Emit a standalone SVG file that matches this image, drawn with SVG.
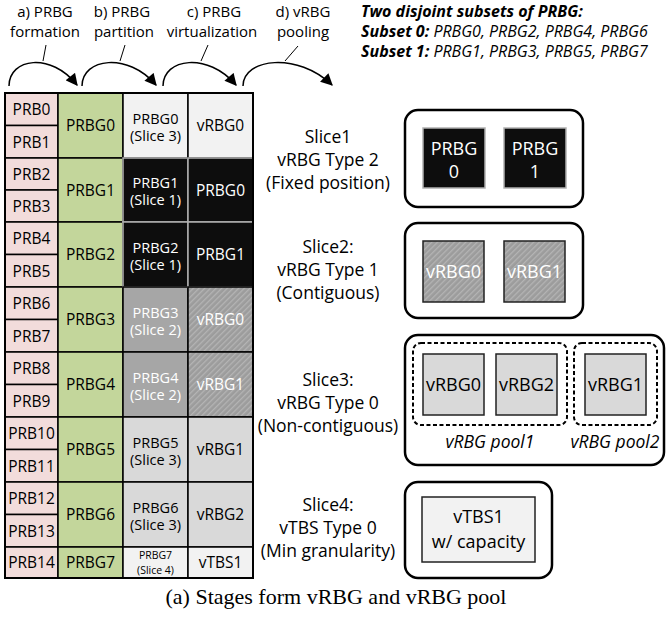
<svg xmlns="http://www.w3.org/2000/svg" width="668" height="619" viewBox="0 0 668 619">
<style>
text{font-family:"Open Sans","Noto Sans",sans-serif;text-anchor:middle;fill:#000}
.t{font-size:15.5px}
.t2{font-size:14.5px}
.w{fill:#fff}
.sm{font-size:10.5px}
.lab{font-size:17.5px}
.hd{font-size:15px}
.bx{font-size:18px}
.it{font-style:italic}
.tr{font-size:16px;font-style:italic;text-anchor:start}
.b{font-weight:bold}
.prb{fill:#F2DCDB;stroke:#000;stroke-width:1.5}
.grp{fill:#C3D69B;stroke:#000;stroke-width:1.5}
.lt{fill:#F2F2F2;stroke:#000;stroke-width:1.5}
.blk{fill:#0d0d0d;stroke:#b0b0b0;stroke-width:1.5}
.g2{fill:#A6A6A6;stroke:#000;stroke-width:1.5}
.h2{fill:url(#hatch);stroke:#000;stroke-width:1.5}
.g3{fill:#D9D9D9;stroke:#000;stroke-width:1.5}
.outer{fill:#fff;stroke:#000;stroke-width:2.5}
.dash{fill:none;stroke:#000;stroke-width:2;stroke-dasharray:4 2.5}
.sq{stroke:#222;stroke-width:1.5}
.arc{fill:none;stroke:#000;stroke-width:1.5}
.ld{stroke:#000;stroke-width:1}
.cap{font-family:"Liberation Serif","Times New Roman",serif;font-size:22px}
</style>
<defs>
<pattern id="hatch" width="4" height="4" patternUnits="userSpaceOnUse" patternTransform="rotate(45)">
<rect width="4" height="4" fill="#9c9c9c"/>
<rect width="1.3" height="4" fill="#b4b4b4"/>
</pattern>
<marker id="ah" viewBox="0 0 10 10" refX="9" refY="5" markerWidth="13" markerHeight="12" markerUnits="userSpaceOnUse" orient="auto">
<path d="M0,0 L10,5 L0,10 z" fill="#000"/>
</marker>
</defs>

<g id="stage-labels">
<text class="hd" x="45" y="16.5">a) PRBG</text>
<text class="hd" x="45" y="36.5">formation</text>
<text class="hd" x="122" y="16.5">b) PRBG</text>
<text class="hd" x="124" y="36.5">partition</text>
<text class="hd" x="214" y="16.5">c) PRBG</text>
<text class="hd" x="212" y="36.5">virtualization</text>
<text class="hd" x="303" y="16.5">d) vRBG</text>
<text class="hd" x="303" y="36.5">pooling</text>
</g>

<g id="subset-note">
<text class="tr b" x="361" y="16.5">Two disjoint subsets of PRBG:</text>
<text class="tr" x="361" y="36.5"><tspan class="b">Subset 0:</tspan> PRBG0, PRBG2, PRBG4, PRBG6</text>
<text class="tr" x="361" y="56.5"><tspan class="b">Subset 1:</tspan> PRBG1, PRBG3, PRBG5, PRBG7</text>
</g>

<g id="connectors">
<path class="arc" d="M9,86 C9,58 51,52 77,85" marker-end="url(#ah)"/>
<path class="arc" d="M82,86 C82,58 128,52 156,85" marker-end="url(#ah)"/>
<path class="arc" d="M163,86 C163,58 208,52 236,85" marker-end="url(#ah)"/>
<path class="arc" d="M243,86 C243,58 298,52 332,85" marker-end="url(#ah)"/>
<line class="ld" x1="46" y1="45" x2="43" y2="61"/>
<line class="ld" x1="125" y1="45" x2="120" y2="61"/>
<line class="ld" x1="208" y1="45" x2="201" y2="61"/>
<line class="ld" x1="298" y1="46" x2="285" y2="61"/>
</g>

<g id="prb-column">
<rect class="prb" x="5" y="93" width="53" height="32.5"/><text class="t" x="31.5" y="115">PRB0</text>
<rect class="prb" x="5" y="125.5" width="53" height="32.5"/><text class="t" x="31.5" y="147.5">PRB1</text>
<rect class="prb" x="5" y="158" width="53" height="32"/><text class="t" x="31.5" y="179.5">PRB2</text>
<rect class="prb" x="5" y="190" width="53" height="32"/><text class="t" x="31.5" y="211.5">PRB3</text>
<rect class="prb" x="5" y="222" width="53" height="32.5"/><text class="t" x="31.5" y="244">PRB4</text>
<rect class="prb" x="5" y="254.5" width="53" height="32.5"/><text class="t" x="31.5" y="276.5">PRB5</text>
<rect class="prb" x="5" y="287" width="53" height="32.5"/><text class="t" x="31.5" y="309">PRB6</text>
<rect class="prb" x="5" y="319.5" width="53" height="32.5"/><text class="t" x="31.5" y="341.5">PRB7</text>
<rect class="prb" x="5" y="352" width="53" height="32.5"/><text class="t" x="31.5" y="374">PRB8</text>
<rect class="prb" x="5" y="384.5" width="53" height="32.5"/><text class="t" x="31.5" y="406.5">PRB9</text>
<rect class="prb" x="5" y="417" width="53" height="32.5"/><text class="t" x="31.5" y="439">PRB10</text>
<rect class="prb" x="5" y="449.5" width="53" height="32.5"/><text class="t" x="31.5" y="471.5">PRB11</text>
<rect class="prb" x="5" y="482" width="53" height="32.5"/><text class="t" x="31.5" y="504">PRB12</text>
<rect class="prb" x="5" y="514.5" width="53" height="32.5"/><text class="t" x="31.5" y="536.5">PRB13</text>
<rect class="prb" x="5" y="547" width="53" height="31"/><text class="t" x="31.5" y="568">PRB14</text>
</g>

<g id="prbg-column">
<rect class="grp" x="58" y="93" width="65" height="65"/><text class="t" x="90.5" y="131">PRBG0</text>
<rect class="grp" x="58" y="158" width="65" height="64"/><text class="t" x="90.5" y="195.5">PRBG1</text>
<rect class="grp" x="58" y="222" width="65" height="65"/><text class="t" x="90.5" y="260">PRBG2</text>
<rect class="grp" x="58" y="287" width="65" height="65"/><text class="t" x="90.5" y="325">PRBG3</text>
<rect class="grp" x="58" y="352" width="65" height="65"/><text class="t" x="90.5" y="390">PRBG4</text>
<rect class="grp" x="58" y="417" width="65" height="65"/><text class="t" x="90.5" y="455">PRBG5</text>
<rect class="grp" x="58" y="482" width="65" height="65"/><text class="t" x="90.5" y="520">PRBG6</text>
<rect class="grp" x="58" y="547" width="65" height="31"/><text class="t" x="90.5" y="568">PRBG7</text>
</g>

<g id="partition-column">
<rect class="lt" x="123" y="93" width="65" height="65"/><text class="t2" x="155.5" y="123.5">PRBG0</text><text class="t2" x="155.5" y="141">(Slice 3)</text>
<rect class="blk" x="123" y="158" width="65" height="64"/><text class="t2 w" x="155.5" y="187.5">PRBG1</text><text class="t2 w" x="155.5" y="205">(Slice 1)</text>
<rect class="blk" x="123" y="222" width="65" height="65"/><text class="t2 w" x="155.5" y="252.5">PRBG2</text><text class="t2 w" x="155.5" y="270">(Slice 1)</text>
<rect class="g2" x="123" y="287" width="65" height="65"/><text class="t2 w" x="155.5" y="317.5">PRBG3</text><text class="t2 w" x="155.5" y="335">(Slice 2)</text>
<rect class="g2" x="123" y="352" width="65" height="65"/><text class="t2 w" x="155.5" y="382.5">PRBG4</text><text class="t2 w" x="155.5" y="400">(Slice 2)</text>
<rect class="g3" x="123" y="417" width="65" height="65"/><text class="t2" x="155.5" y="447.5">PRBG5</text><text class="t2" x="155.5" y="465">(Slice 3)</text>
<rect class="g3" x="123" y="482" width="65" height="65"/><text class="t2" x="155.5" y="512.5">PRBG6</text><text class="t2" x="155.5" y="530">(Slice 3)</text>
<rect class="lt" x="123" y="547" width="65" height="31"/><text class="sm" x="155.5" y="558.5">PRBG7</text><text class="sm" x="155.5" y="574">(Slice 4)</text>
</g>

<g id="virtual-column">
<rect class="lt" x="188" y="93" width="65" height="65"/><text class="t" x="220.5" y="131">vRBG0</text>
<rect class="blk" x="188" y="158" width="65" height="64"/><text class="t w" x="220.5" y="195.5">PRBG0</text>
<rect class="blk" x="188" y="222" width="65" height="65"/><text class="t w" x="220.5" y="260">PRBG1</text>
<rect class="h2" x="188" y="287" width="65" height="65"/><text class="t w" x="220.5" y="325">vRBG0</text>
<rect class="h2" x="188" y="352" width="65" height="65"/><text class="t w" x="220.5" y="390">vRBG1</text>
<rect class="g3" x="188" y="417" width="65" height="65"/><text class="t" x="220.5" y="455">vRBG1</text>
<rect class="g3" x="188" y="482" width="65" height="65"/><text class="t" x="220.5" y="520">vRBG2</text>
<rect class="lt" x="188" y="547" width="65" height="31"/><text class="t" x="220.5" y="568">vTBS1</text>
<rect x="5" y="93" width="248" height="485" fill="none" stroke="#000" stroke-width="2"/>
</g>

<g id="slice1-label">
<text class="lab" x="328" y="143">Slice1</text>
<text class="lab" x="328" y="166">vRBG Type 2</text>
<text class="lab" x="328" y="189">(Fixed position)</text>
</g>
<g id="slice2-label">
<text class="lab" x="328" y="253">Slice2:</text>
<text class="lab" x="328" y="276">vRBG Type 1</text>
<text class="lab" x="328" y="299">(Contiguous)</text>
</g>
<g id="slice3-label">
<text class="lab" x="328" y="386">Slice3:</text>
<text class="lab" x="328" y="409">vRBG Type 0</text>
<text class="lab" x="328" y="432">(Non-contiguous)</text>
</g>
<g id="slice4-label">
<text class="lab" x="328" y="511">Slice4:</text>
<text class="lab" x="328" y="534">vTBS Type 0</text>
<text class="lab" x="328" y="557">(Min granularity)</text>
</g>

<g id="slice1-box">
<rect class="outer" x="405" y="110" width="178" height="97" rx="13"/>
<rect class="blk" x="423" y="128" width="62" height="60"/>
<text class="bx w" x="454" y="155">PRBG</text><text class="bx w" x="454" y="178">0</text>
<rect class="blk" x="504" y="128" width="62" height="60"/>
<text class="bx w" x="535" y="155">PRBG</text><text class="bx w" x="535" y="178">1</text>
</g>

<g id="slice2-box">
<rect class="outer" x="405" y="223" width="178" height="95" rx="13"/>
<rect class="h2 sq" x="423" y="241" width="61" height="61"/>
<text class="bx w" x="453.5" y="278">vRBG0</text>
<rect class="h2 sq" x="504" y="241" width="61" height="61"/>
<text class="bx w" x="534.5" y="278">vRBG1</text>
</g>

<g id="slice3-box">
<rect class="outer" x="405" y="335" width="259" height="130" rx="13"/>
<rect class="dash" x="413" y="343" width="154" height="82" rx="8"/>
<rect class="dash" x="574" y="343" width="83" height="82" rx="8"/>
<rect class="g3 sq" x="423" y="354" width="61" height="61"/>
<text class="bx" x="453.5" y="391">vRBG0</text>
<rect class="g3 sq" x="496" y="354" width="61" height="61"/>
<text class="bx" x="526.5" y="391">vRBG2</text>
<rect class="g3 sq" x="585" y="354" width="61" height="61"/>
<text class="bx" x="615.5" y="391">vRBG1</text>
<text class="lab it" x="490" y="448">vRBG pool1</text>
<text class="lab it" x="615" y="448">vRBG pool2</text>
</g>

<g id="slice4-box">
<rect class="outer" x="405" y="482" width="147" height="96" rx="13"/>
<rect class="lt sq" x="422" y="497" width="113" height="65"/>
<text class="bx" x="478.5" y="523">vTBS1</text>
<text class="bx" x="478.5" y="548">w/ capacity</text>
</g>

<text class="cap" x="336" y="604">(a)  Stages form vRBG and vRBG pool</text>
</svg>
